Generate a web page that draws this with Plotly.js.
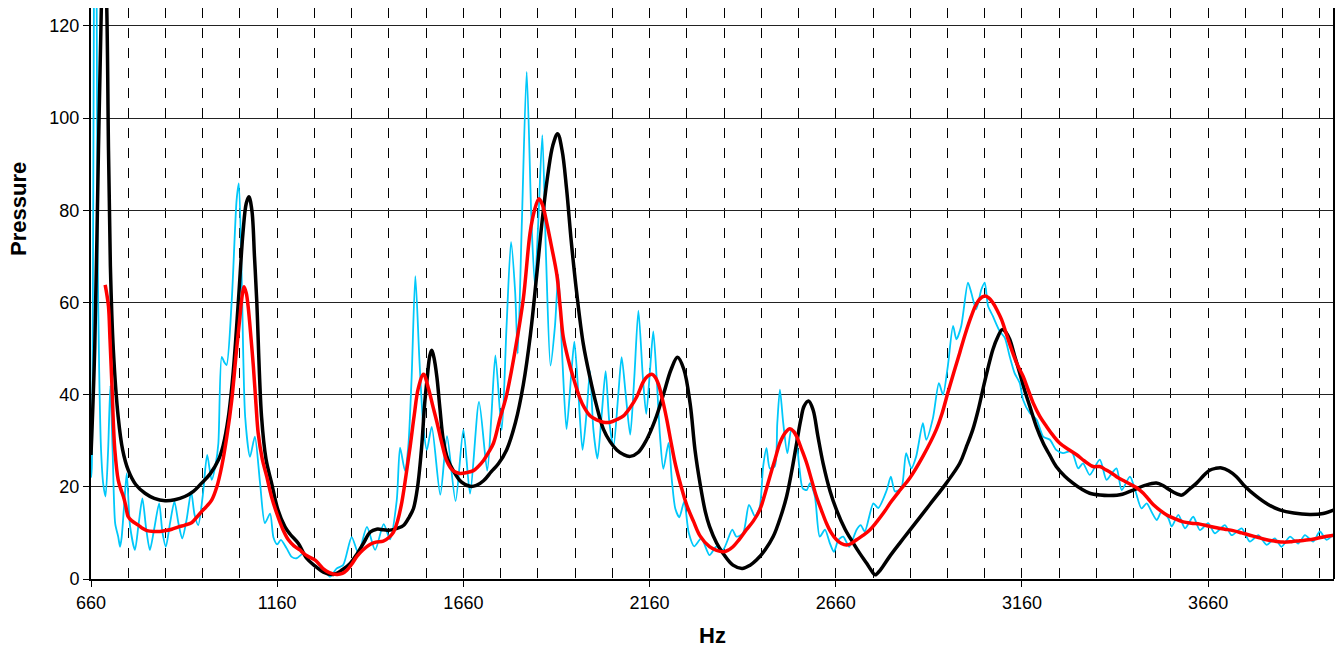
<!DOCTYPE html>
<html>
<head>
<meta charset="utf-8">
<script src="https://cdn.plot.ly/plotly-3.0.1.min.js"></script>
<style>html,body{margin:0;padding:0;background:#fff;}#chart{width:1336px;height:656px;}</style>
</head>
<body>
<div id="chart"></div>
<script>
// Measured (cyan) series
const measuredHz = [660,662,665,668,671,675,678,682,687,693,699,706,712,718,725,733,738,742,749,756,765,778,788,798,808,818,830,843,852,861,872,884,895,905,917,929,938,948,960,972,984,995,1002,1011,1018,1024,1038,1051,1057,1065,1074,1087,1100,1114,1127,1141,1150,1160,1170,1185,1199,1212,1230,1250,1266,1284,1302,1320,1337,1360,1378,1401,1423,1446,1463,1481,1490,1503,1512,1521,1531,1542,1553,1562,1575,1598,1616,1639,1660,1678,1702,1724,1735,1746,1763,1776,1788,1799,1806,1817,1830,1843,1852,1861,1872,1882,1894,1906,1915,1926,1937,1949,1958,1969,1980,1991,2000,2009,2020,2032,2042,2052,2063,2076,2085,2096,2108,2119,2130,2142,2151,2161,2170,2179,2188,2197,2211,2220,2229,2240,2253,2265,2280,2299,2321,2339,2357,2382,2393,2411,2427,2443,2456,2465,2474,2483,2496,2503,2510,2519,2530,2541,2550,2562,2571,2582,2591,2604,2617,2631,2644,2655,2667,2680,2696,2716,2727,2738,2761,2774,2797,2808,2819,2836,2849,2863,2876,2894,2903,2921,2937,2948,2961,2975,2984,2997,3015,3024,3037,3051,3060,3069,3082,3100,3114,3127,3140,3154,3163,3181,3199,3217,3235,3252,3270,3293,3311,3324,3342,3369,3387,3401,3414,3428,3450,3464,3481,3495,3508,3522,3535,3553,3562,3580,3598,3620,3638,3660,3678,3705,3723,3750,3772,3795,3817,3839,3857,3880,3902,3920,3942,3960,3978,3998];
const measuredP = [22,24,60,130,170,130,70,45,28,20.5,17.9,28,42,28,12,9.2,7,8.8,16,22.9,11.4,6.3,12,17.5,11,6.3,11,16.4,10,7,12,16.8,12,8.8,13,18.9,14,11.7,18,26.9,21.5,25,29.4,48.2,47,46.4,60.5,82.2,85.8,64.1,35.2,26.5,30.9,20.8,12.1,14.2,9,7.5,8.5,6.7,4.8,4.5,5.5,3.5,2.6,2.3,0.5,2.3,3,9.1,5.6,11.3,6.3,11.9,8.6,17,28.5,23.5,28.7,43.7,65.7,47.4,32.5,28,33,18.3,31,16.9,32.4,18.5,38.4,23.5,35,48.5,32.3,54.9,73.1,62.3,48.9,77.2,110,77.2,63.8,77.2,96.3,69.8,46.3,54.9,66,47.4,32.5,43.7,51.5,40,28,36.2,45.1,32.5,26.1,36.2,45.1,34,28.7,40,48.1,40,31.3,43.7,58.2,43.7,35.8,45.1,53.7,43.7,31,23.9,29.5,21.3,15.3,13.4,16.8,10.1,7.1,8.8,5.2,7,6.3,10.7,9.2,9.9,16.1,13.6,15.7,24.4,28.4,24,24.4,33.8,41.1,33.8,27.3,32.4,32,24.4,19.7,19.3,20.8,17.9,9.2,10.7,7.8,5.9,8.5,9.2,7,10.7,11.7,10.3,16.4,15.4,19.3,22.2,19,19.7,27.3,24,26.6,33.8,30.2,34.9,42.5,40,46.2,54.9,52,54.9,64.3,62.1,58.5,62.8,64.3,59.2,57,53.8,52.3,48.3,44.7,42.5,38.9,36,34.6,30.9,30.2,28,27.3,27.7,24,25.1,22.6,25.9,21.5,22.9,24,19.3,22.2,19.3,15.3,16.4,14.6,12.8,14.6,13.2,11.4,13.9,11,13.5,10.6,12.1,9.9,11.7,9.5,11,8.1,9.5,7.4,8.8,7,9.2,7.7,9.5,8.1,10.3,8.5,9.8];

// Model (black) series
const modelHz = [660,670,680,688,695,702,707,712,720,733,745,760,780,805,830,859,885,912,935,957,980,1002,1015,1029,1042,1056,1068,1077,1084,1092,1099,1105,1118,1130,1145,1162,1181,1195,1217,1239,1262,1284,1311,1335,1356,1375,1392,1410,1427,1445,1463,1482,1499,1515,1526,1537,1548,1556,1563,1570,1575,1581,1589,1597,1606,1618,1633,1655,1678,1695,1714,1735,1754,1776,1800,1821,1840,1857,1872,1888,1900,1913,1925,1937,1950,1964,1982,2000,2018,2036,2054,2072,2090,2108,2130,2152,2175,2197,2218,2235,2252,2269,2282,2296,2310,2321,2340,2357,2384,2409,2430,2447,2470,2492,2512,2528,2542,2555,2566,2575,2587,2599,2612,2626,2645,2662,2685,2707,2725,2743,2756,2766,2780,2804,2833,2858,2912,2957,2993,3010,3028,3042,3055,3068,3082,3095,3107,3117,3127,3140,3154,3167,3181,3199,3217,3235,3252,3275,3297,3320,3342,3370,3396,3430,3459,3490,3521,3540,3557,3575,3589,3610,3629,3650,3664,3680,3696,3715,3736,3760,3790,3820,3852,3890,3933,3969,3998];
const modelP = [26.9,50,93,125,140,125,93,68,49.7,35.2,28,23.6,20.5,18.6,17.5,17,17.2,17.9,19,20.8,22.8,25.8,29,35.2,45,60.5,75,81.5,82.9,80,70,60.5,35.2,26,20.8,15,11.3,9.7,7.7,4.5,2.8,1.5,1,2,3.4,5.5,7.8,10.2,10.8,10.7,10.6,11,11.6,13.5,15.3,20,28.7,38,43.7,48.5,49.6,48,43.7,37,30.2,26,23.5,21,20.1,20.3,21.3,23.3,25,28,34,42.2,53,66,78,88.4,94,96.6,93,84.7,73,62.3,51,43.7,37.5,32.5,29.8,28,27,26.6,27.5,30.2,34.5,40,45.5,48.1,45.5,38,28,20.5,14.5,11.4,7.8,5.6,3,2.3,3,4.1,6.3,9.2,13.5,17.9,23.5,29.5,34.5,37.5,38.6,36.7,31,25.1,19,15,10.8,7.8,5.5,3.4,1.8,0.9,2,4.8,7.9,10.5,16.1,20.8,25.1,28.5,32.4,36.5,41.1,45.5,49.8,52.5,54.1,53.5,52,48.5,44.7,41,37.5,33,29.5,26.8,24.4,22.3,20.8,19.5,18.6,18.2,18.1,18.4,19.3,20.3,20.8,20.2,19.3,18.5,18.2,19.5,20.8,22.6,23.6,24,24.1,23.5,22.2,20,17.9,16.2,15,14.3,14,14.2,15];

// Smoothed (red) series
const smoothHz = [698,702,707,711,716,720,724,733,740,747,753,760,770,787,798,810,830,845,860,877,895,912,930,945,957,971,984,998,1011,1025,1038,1050,1060,1066,1071,1077,1082,1090,1096,1103,1109,1120,1132,1145,1159,1175,1190,1205,1221,1230,1245,1262,1275,1284,1300,1320,1335,1347,1360,1374,1390,1409,1425,1445,1460,1472,1484,1495,1506,1517,1528,1539,1553,1566,1578,1589,1602,1615,1632,1651,1670,1687,1700,1714,1728,1741,1758,1776,1799,1821,1839,1851,1863,1873,1884,1897,1911,1920,1928,1942,1955,1973,1986,2000,2018,2036,2054,2072,2090,2108,2126,2144,2155,2166,2175,2184,2195,2206,2218,2229,2245,2260,2278,2296,2321,2340,2357,2370,2384,2400,2420,2438,2456,2470,2483,2497,2510,2525,2537,2547,2555,2568,2582,2595,2608,2622,2635,2648,2662,2675,2689,2702,2716,2734,2752,2770,2788,2810,2833,2858,2894,2930,2945,2961,2977,2993,3008,3024,3035,3046,3060,3071,3082,3094,3105,3118,3132,3147,3163,3176,3190,3208,3226,3243,3261,3283,3306,3328,3351,3369,3385,3400,3414,3436,3459,3473,3486,3500,3513,3531,3549,3570,3593,3615,3638,3660,3683,3705,3727,3750,3772,3795,3817,3840,3862,3884,3906,3930,3951,3975,3998];
const smoothP = [63.8,62,59.1,52,42.4,34,28,21.5,19.5,17.9,16,13.5,12.6,11.7,11,10.5,10.3,10.3,10.5,10.8,11.3,11.7,12.2,13.5,14.6,15.8,17.1,20,24.4,31,38.8,49,56.9,61.5,63.4,62,59.1,52,46.1,38,31.6,26,22.2,17.8,14.2,10.8,8.5,7.2,6.3,5.6,4.8,4.1,3,2.2,1.4,1,1.2,1.9,3.2,4.9,6.3,7.5,8,8.2,9,10.1,12.8,16.8,22.5,28.7,35.5,41.4,44.4,41.4,37.5,34,29.5,25.7,23.5,22.9,23.1,23.5,24.4,25.7,27.5,29.5,34.7,39.9,49.6,60.8,75,80,82.5,81,77.2,72,66,59,52.6,47.5,43.7,39.2,37,35.4,34.5,34,34,34.6,35.4,37.2,39.6,42.9,44,44.4,43.8,42.2,38.8,34.7,29.5,25,20,16,12.5,9.3,7,6.2,5.9,6.2,7,8.5,10.7,12.5,15,18.5,22.2,26,29.5,31.8,32.6,32,30.9,28.2,25.1,21.5,17.9,14.8,12.1,10,8.5,7.7,7.4,7.7,8.5,9.5,10.7,12.4,14.3,16.9,19.3,21.8,26.6,32.4,35.8,40.4,44.8,49.1,53.2,57,59.2,60.7,61.4,61,59.9,58.2,56.3,53.2,49.8,46.6,44,41.2,38.2,35.3,33.1,31.2,29.5,28.2,27,25.6,24.4,24.4,23.7,23,22.2,21.2,20.2,19.5,18.6,17.3,16.1,14.9,13.9,13.1,12.4,12.1,11.9,11.5,11.1,10.8,10.5,10,9.5,9,8.5,8.2,8,8.1,8.3,8.5,8.8,9.2,9.5];

const xTickStart = 660, xMajor = 500, xMinor = 100;
const FONT = 'Arial, "Liberation Sans", sans-serif';

const traces = [
  {x: measuredHz, y: measuredP, type: 'scatter', mode: 'lines', name: 'Measured',
   line: {color: '#00C8FA', width: 1.8, shape: 'spline', smoothing: 0.7}},
  {x: modelHz, y: modelP, type: 'scatter', mode: 'lines', name: 'Model',
   line: {color: '#000000', width: 3.5, shape: 'spline', smoothing: 1}},
  {x: smoothHz, y: smoothP, type: 'scatter', mode: 'lines', name: 'Smoothed',
   line: {color: '#FF0000', width: 3.5, shape: 'spline', smoothing: 1}}
];

const layout = {
  width: 1336, height: 656,
  margin: {l: 91, r: 2, t: 8, b: 77},
  paper_bgcolor: '#ffffff', plot_bgcolor: '#ffffff',
  showlegend: false,
  font: {family: FONT, color: '#000', size: 18},
  xaxis: {
    range: [660, 3998], tick0: xTickStart, dtick: xMajor, tickmode: 'linear',
    ticks: 'outside', ticklen: 6, tickcolor: '#000', tickwidth: 1,
    showline: true, linecolor: '#000', linewidth: 2,
    showgrid: true, gridcolor: '#000', gridwidth: 1, griddash: '10px,10px',
    minor: {tick0: xTickStart, dtick: xMinor, showgrid: true, gridcolor: '#000', gridwidth: 1, griddash: '10px,10px', ticks: ''},
    zeroline: false,
    tickfont: {family: FONT, size: 18, color: '#000'},
    title: {text: 'Hz', font: {family: FONT, size: 22, color: '#000', weight: 'bold'}, standoff: 16}
  },
  yaxis: {
    range: [0, 123.86], tick0: 0, dtick: 20, tickmode: 'linear',
    ticks: 'outside', ticklen: 6, tickcolor: '#000', tickwidth: 1,
    showline: true, linecolor: '#000', linewidth: 2,
    showgrid: true, gridcolor: '#222', gridwidth: 1,
    zeroline: false,
    tickfont: {family: FONT, size: 18, color: '#000'}
  },
  annotations: [
    {text: 'Pressure', xref: 'paper', yref: 'paper', x: -73/1243, y: (579-209)/571,
     xanchor: 'center', yanchor: 'middle', textangle: -90, showarrow: false,
     font: {family: FONT, size: 22, color: '#000', weight: 'bold'}}
  ],
  shapes: [
    {type: 'line', xref: 'paper', yref: 'paper', x0: 1, x1: 1, y0: 0, y1: 1,
     line: {color: '#000', width: 2}}
  ]
};

Plotly.newPlot('chart', traces, layout, {staticPlot: true, displayModeBar: false});
</script>
</body>
</html>
